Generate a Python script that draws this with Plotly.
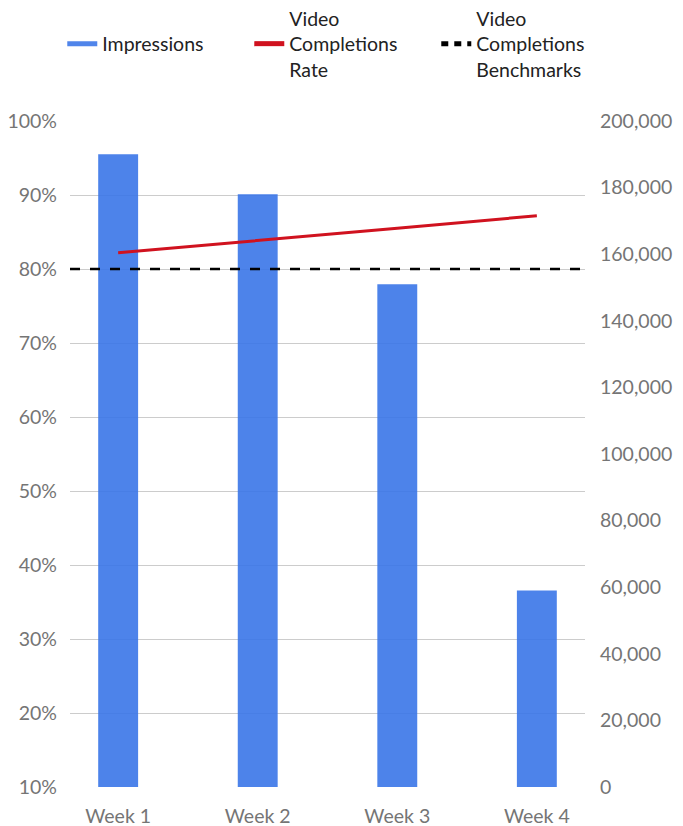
import plotly.graph_objects as go

weeks = ["Week 1", "Week 2", "Week 3", "Week 4"]
impressions = [190000, 178000, 151000, 59000]
completion_rate = [0.822, 0.838, 0.855, 0.872]
benchmark = 0.80

FONT = "Lato"
BLUE = "rgba(58,118,232,0.9)"
RED = "#D0121F"

fig = go.Figure()

fig.add_trace(go.Bar(
    x=weeks, y=impressions, yaxis="y", name="Impressions",
    marker=dict(color=BLUE, line=dict(width=0)), width=0.286,
    showlegend=False,
))
fig.add_trace(go.Scatter(
    x=weeks, y=completion_rate, yaxis="y2", mode="lines", name="Video<br>Completions<br>Rate",
    line=dict(color=RED, width=3), showlegend=False,
))
fig.add_hline(y=benchmark, yref="y2", line=dict(color="black", width=2.5, dash="10px,10px"),
              layer="above")

# legend entries
fig.add_trace(go.Scatter(x=[None], y=[None], mode="lines", name=" <br>Impressions<br> ",
                         line=dict(color="#5085EA", width=5)))
fig.add_trace(go.Scatter(x=[None], y=[None], mode="lines", name="Video<br>Completions<br>Rate",
                         line=dict(color=RED, width=5)))
fig.add_trace(go.Scatter(x=[None], y=[None], mode="lines", name="Video<br>Completions<br>Benchmarks",
                         line=dict(color="black", width=5, dash="7px,6px")))

fig.update_layout(
    width=683, height=826,
    margin=dict(l=70, r=98, t=121, b=39, autoexpand=False),
    paper_bgcolor="white", plot_bgcolor="white",
    font=dict(family=FONT, size=19.5, color="#757575"),
    bargap=0.7,
    legend=dict(orientation="h", x=-0.015, xanchor="left", y=1.183, yanchor="top",
                font=dict(family=FONT, size=19.5, color="#222222"),
                entrywidth=142, valign="middle"),
    xaxis=dict(range=[-0.345, 3.345], showgrid=False, showline=False, ticks="",
               ticklabelstandoff=15, tickfont=dict(color="#757575")),
    yaxis=dict(range=[0, 200000], dtick=20000, tickformat=",", side="right",
               showgrid=False, zeroline=False, ticks="", ticklabelstandoff=14),
    yaxis2=dict(range=[0.1, 1.0], dtick=0.1, tick0=0.1, tickformat=".0%",
                overlaying="y", side="left",
                showgrid=True, gridcolor="#cccccc", gridwidth=1, zeroline=False,
                ticks="", ticklabelstandoff=12),
)

fig.write_html("out.html")
